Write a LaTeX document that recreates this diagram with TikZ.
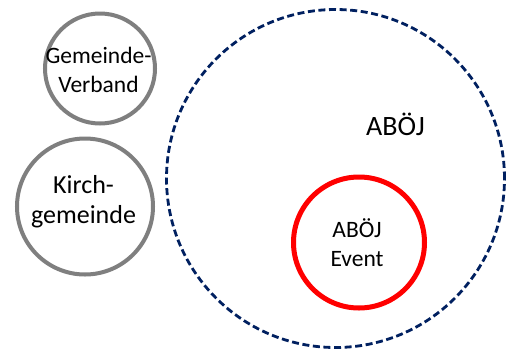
\documentclass[tikz,border=0pt]{standalone}
\usepackage{fontspec}
\setmainfont{Carlito}
\definecolor{navy}{HTML}{002060}
\definecolor{ringgray}{HTML}{7F7F7F}
\definecolor{ringred}{HTML}{FF0000}
\begin{document}
\begin{tikzpicture}[x=1pt,y=-1pt,
  ring/.style={circle, draw, inner sep=0pt},
  lbl/.style={anchor=base, inner sep=0pt},
  fA/.style={font=\fontsize{23.5}{30}\selectfont},
  fB/.style={font=\fontsize{26}{30}\selectfont},
  fC/.style={font=\fontsize{28}{30}\selectfont}]
\useasboundingbox[fill=white] (0,0) rectangle (512,349);
% big dashed circle
\node[ring, draw=navy, line width=2.8pt, dash pattern=on 7pt off 3.6pt, minimum size=338pt] (aboj) at (335.5,178.5) {};
% small gray circles
\node[ring, draw=ringgray, line width=4pt, minimum size=110pt] (gv) at (100,68.5) {};
\node[ring, draw=ringgray, line width=4pt, minimum size=136pt] (kg) at (85,206.5) {};
% red circle
\node[ring, draw=ringred, line width=5pt, minimum size=131pt] (ev) at (359,242.5) {};
% labels
\node[lbl, fA] (gv1) at (98.5,63) {Gemeinde-};
\node[lbl, fA] (gv2) at (98.5,92) {Verband};
\node[lbl, fB] (kg1) at (83.5,193) {Kirch-};
\node[lbl, fB] (kg2) at (83.5,223) {gemeinde};
\node[lbl, fC] (abojt) at (395.5,135) {ABÖJ};
\node[lbl, fA] (ev1) at (357,237) {ABÖJ};
\node[lbl, fA] (ev2) at (357,266) {Event};
\end{tikzpicture}
\end{document}
